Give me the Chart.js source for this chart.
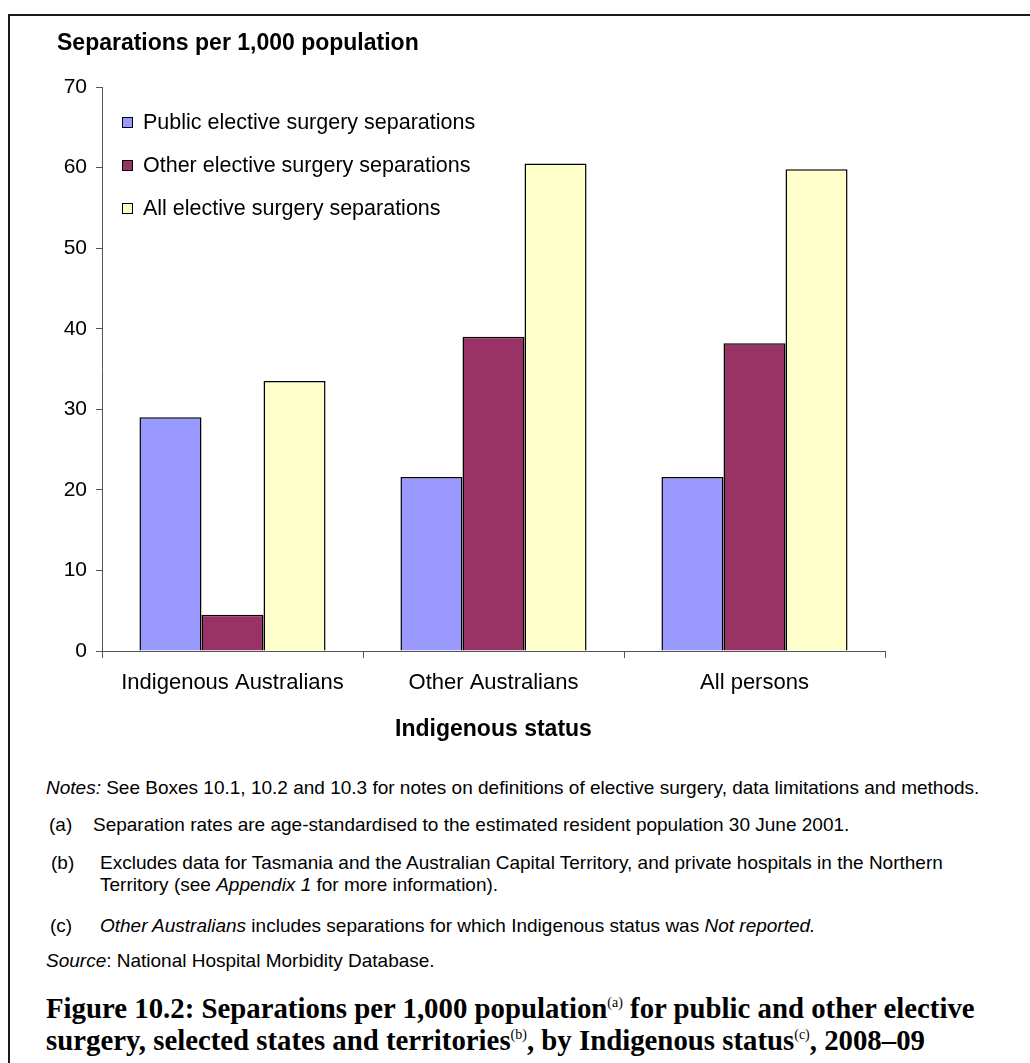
<!DOCTYPE html>
<html>
<head>
<meta charset="utf-8">
<title>Elective surgery separations by Indigenous status</title>
<script src="https://cdn.jsdelivr.net/npm/chart.js@4.4.0/dist/chart.umd.min.js"></script>
<style>
  html, body { margin: 0; padding: 0; background: #fff; width: 1030px; height: 1063px; overflow: hidden;
    font-family: "Liberation Sans", Arial, sans-serif; color: #000; }
  #frame { position: absolute; left: 8px; top: 14px; width: 1100px; height: 1100px;
    border-left: 2px solid #1a1a1a; border-top: 2px solid #1a1a1a; }
  #wrap { position: absolute; left: 0; top: 0; width: 1030px; height: 760px; }
  #ytitle { position: absolute; left: 57px; top: 28px; font-weight: bold; font-size: 23px;
    line-height: 28px; white-space: nowrap; }
  #legend { position: absolute; left: 122px; top: 101px; }
  .li { display: flex; align-items: center; height: 43px; font-size: 21.5px; white-space: nowrap; }
  .sw { width: 9px; height: 9px; border: 1px solid #000; margin-right: 10px; }
  .n { position: absolute; white-space: nowrap; font-size: 19px; line-height: 22px; }
  #caption { position: absolute; left: 46px; top: 992px; font-family: "Liberation Serif", serif;
    font-weight: bold; font-size: 28.8px; line-height: 32px; white-space: nowrap; }
  #caption sup { font-size: 14px; line-height: 0; vertical-align: 11px; font-weight: normal; }
</style>
</head>
<body>
<div id="frame"></div>
<div id="wrap"><canvas id="chart" width="1030" height="760"></canvas></div>
<div id="ytitle">Separations per 1,000 population</div>
<div id="legend"></div>

<div class="n" style="left:46px;top:777px"><i>Notes:</i> See Boxes 10.1, 10.2 and 10.3 for notes on definitions of elective surgery, data limitations and methods.</div>
<div class="n" style="left:49px;top:814px">(a)</div>
<div class="n" style="left:93px;top:814px">Separation rates are age-standardised to the estimated resident population 30 June 2001.</div>
<div class="n" style="left:51px;top:852px">(b)</div>
<div class="n" style="left:100px;top:852px">Excludes data for Tasmania and the Australian Capital Territory, and private hospitals in the Northern</div>
<div class="n" style="left:100px;top:874px">Territory (see <i>Appendix 1</i> for more information).</div>
<div class="n" style="left:50px;top:915px">(c)</div>
<div class="n" style="left:100px;top:915px"><i>Other Australians</i> includes separations for which Indigenous status was <i>Not reported.</i></div>
<div class="n" style="left:46px;top:950px"><i>Source</i>: National Hospital Morbidity Database.</div>

<div id="caption">Figure 10.2: Separations per 1,000 population<sup>(a)</sup> for public and other elective<br>surgery, selected states and territories<sup>(b)</sup>, by Indigenous status<sup>(c)</sup>, 2008–09</div>

<script>
// Separations per 1,000 population, 2008–09
const categories = ['Indigenous Australians', 'Other Australians', 'All persons'];
const seriesNames = ['Public elective surgery separations', 'Other elective surgery separations', 'All elective surgery separations'];
const publicRates = [29.0, 21.6, 21.6];
const otherRates = [4.5, 39.0, 38.2];
const allRates = [33.5, 60.5, 59.8];
const yMin = 0, yMax = 70, yStep = 10;

const seriesColors = ['#9999FF', '#993366', '#FFFFCC'];
const axisColor = '#555';
const sansFamily = '"Liberation Sans", Arial, sans-serif';

const datasets = [publicRates, otherRates, allRates].map((vals, i) => ({
  label: seriesNames[i],
  data: vals,
  backgroundColor: seriesColors[i],
  borderColor: '#000',
  borderWidth: 1.5,
  borderSkipped: 'bottom',
  categoryPercentage: 0.713,
  barPercentage: 1.0
}));

const chart = new Chart(document.getElementById('chart'), {
  type: 'bar',
  data: { labels: categories, datasets },
  options: {
    responsive: false,
    animation: false,
    layout: { padding: { top: 87, right: 145, left: 0, bottom: 0 } },
    plugins: { legend: { display: false }, tooltip: { enabled: false } },
    scales: {
      x: {
        grid: { display: true, drawOnChartArea: false, drawTicks: true, tickLength: 7, color: axisColor, offset: true },
        border: { display: true, color: axisColor, width: 1 },
        ticks: { color: '#000', padding: 12, font: { family: sansFamily, size: 22 } },
        title: { display: true, text: 'Indigenous status', color: '#000', padding: { top: 0, bottom: 17 },
          font: { family: sansFamily, size: 23, weight: 'bold' } },
        afterFit: (s) => { s.height = 109; }
      },
      y: {
        min: yMin, max: yMax,
        grid: { display: true, drawOnChartArea: false, drawTicks: true, tickLength: 6, color: axisColor },
        border: { display: true, color: axisColor, width: 1 },
        ticks: { stepSize: yStep, color: '#000', padding: 9, font: { family: sansFamily, size: 21 } },
        afterFit: (s) => { s.width = 102; }
      }
    }
  }
});

// Legend list built from the chart's datasets
const legend = document.getElementById('legend');
chart.data.datasets.forEach(ds => {
  const row = document.createElement('div');
  row.className = 'li';
  const sw = document.createElement('span');
  sw.className = 'sw';
  sw.style.background = ds.backgroundColor;
  const lab = document.createElement('span');
  lab.textContent = ds.label;
  row.appendChild(sw);
  row.appendChild(lab);
  legend.appendChild(row);
});
</script>
</body>
</html>
